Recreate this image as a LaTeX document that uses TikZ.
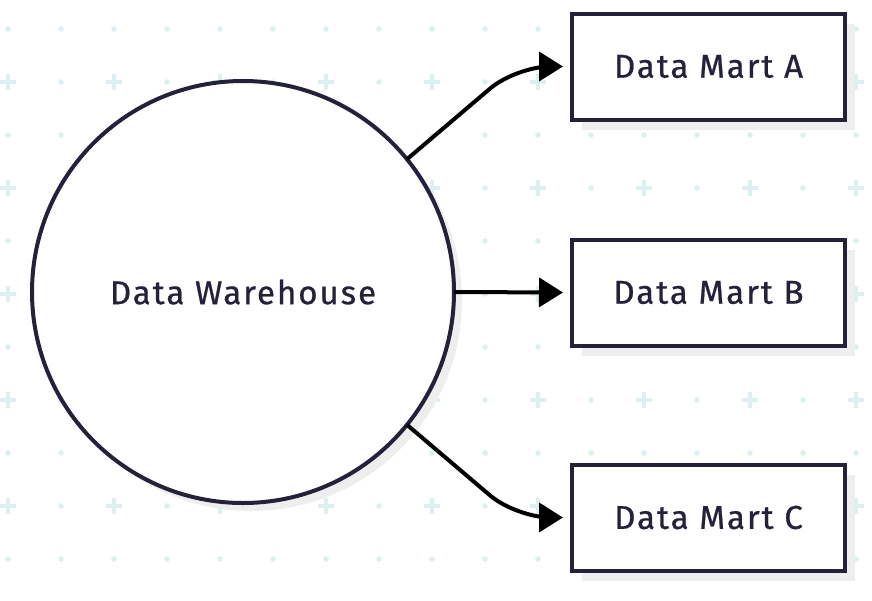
\documentclass[tikz,border=0pt]{standalone}
\usepackage{fontspec}
\setmainfont[LetterSpace=6,FakeBold=0.7]{Fira Sans}
\usetikzlibrary{arrows.meta,shadows,calc}
\definecolor{ink}{HTML}{24223A}
\definecolor{gridc}{HTML}{DCEFF1}
\definecolor{shade}{HTML}{EEEEEE}
\tikzset{
  gdot/.style={fill=gridc},
  gplus/.style={draw=gridc,line width=3.5pt},
  label text/.style={text=ink,font=\fontsize{33}{38}\selectfont},
  hub/.style={circle,draw=ink,line width=4pt,fill=white,minimum size=422pt,inner sep=0pt,outer sep=0pt,label text,
    drop shadow={shadow xshift=8pt,shadow yshift=-8pt,fill=shade,opacity=1}},
  mart/.style={rectangle,draw=ink,line width=4pt,fill=white,minimum width=273pt,minimum height=106pt,inner sep=0pt,outer sep=0pt,label text,
    drop shadow={shadow xshift=10pt,shadow yshift=-10pt,fill=shade,opacity=1}},
  conn/.style={draw=black,line width=4pt,-{Triangle[length=24pt,width=29pt]},rounded corners=34pt}
}
\begin{document}
\begin{tikzpicture}[x=1pt,y=-1pt]
\useasboundingbox (0,0) rectangle (872,600);
\fill[white] (0,0) rectangle (872,600);
\foreach \j in {0,...,10}{\foreach \k in {0,...,16}{
  \pgfmathsetmacro\px{8+53*\k}
  \pgfmathsetmacro\py{29+53*\j}
  \ifodd\j
    \ifodd\k
      \fill[gdot] (\px,\py) circle (2.8pt);
    \else
      \draw[gplus] (\px-8,\py) -- (\px+8,\py) (\px,\py-8) -- (\px,\py+8);
    \fi
  \else
    \fill[gdot] (\px,\py) circle (2.8pt);
  \fi
}}
\node[hub] (wh) at (243,292) {Data Warehouse};
\node[mart] (ma) at (708.5,66.5) {Data Mart A};
\node[mart] (mb) at (708.5,292.5) {Data Mart B};
\node[mart] (mc) at (708.5,517.5) {Data Mart C};
\draw[conn] (wh.39.6) -- ([xshift=-56pt]ma.west) -- ([xshift=-9pt]ma.west);
\draw[conn] (wh.east) -- ([xshift=-9pt]mb.west);
\draw[conn] (wh.-39.6) -- ([xshift=-56pt]mc.west) -- ([xshift=-9pt]mc.west);
\end{tikzpicture}
\end{document}
